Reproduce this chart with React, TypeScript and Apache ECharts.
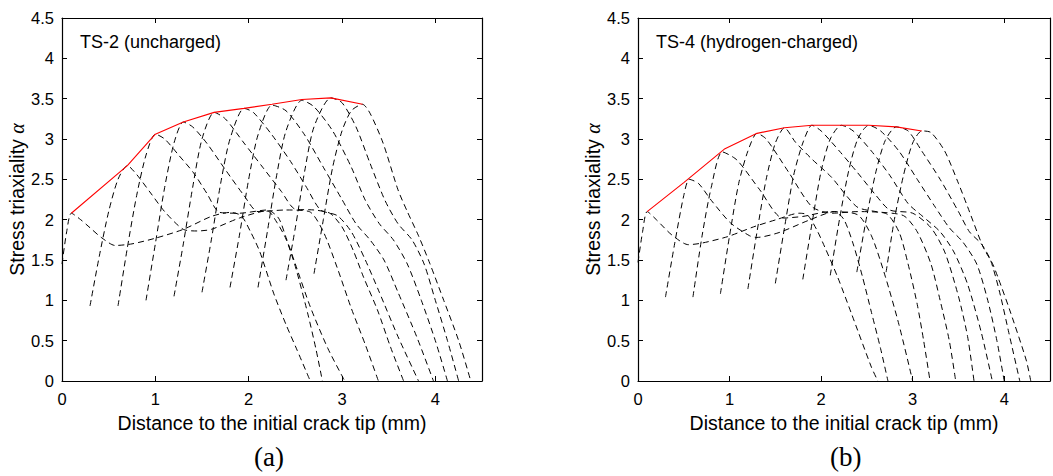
import React, { useEffect, useRef } from "react";
import * as echarts from "echarts";

// ---------- Data (panel a: TS-2 uncharged) ----------
const yTicks = [0, 0.5, 1, 1.5, 2, 2.5, 3, 3.5, 4, 4.5];
const xTicks = [0, 1, 2, 3, 4];

const a1 = [[0,1.45],[0.05,1.85],[0.1,2.08],[0.2,2.0],[0.3,1.9],[0.42,1.78],[0.57,1.68],[0.75,1.7],[1.0,1.77],[1.3,1.88],[1.6,2.04],[1.8,2.09],[1.92,2.05],[2.02,1.85],[2.12,1.6],[2.27,1.08],[2.4,0.7],[2.52,0.38],[2.66,0]];
const a2 = [[0.3,0.93],[0.4,1.55],[0.5,2.1],[0.6,2.5],[0.7,2.67],[0.8,2.56],[0.95,2.33],[1.1,2.1],[1.3,1.88],[1.45,1.86],[1.6,1.88],[1.9,2.02],[2.2,2.11],[2.3,1.97],[2.4,1.76],[2.5,1.42],[2.63,0.85],[2.72,0.4],[2.79,0]];
const a3 = [[0.6,0.93],[0.7,1.65],[0.8,2.3],[0.9,2.8],[1.0,3.06],[1.1,3.0],[1.25,2.8],[1.41,2.58],[1.55,2.33],[1.69,2.09],[1.9,2.08],[2.2,2.12],[2.32,2.02],[2.4,1.78],[2.5,1.45],[2.66,0.92],[2.85,0.4],[3.03,0]];
const a4 = [[0.9,1.0],[1.0,1.7],[1.1,2.4],[1.2,2.95],[1.3,3.21],[1.4,3.15],[1.55,2.95],[1.75,2.62],[1.95,2.3],[2.1,2.1],[2.4,2.12],[2.65,2.1],[2.8,1.85],[2.95,1.4],[3.1,0.9],[3.25,0.45],[3.39,0]];
const a5 = [[1.2,1.05],[1.3,1.7],[1.4,2.4],[1.5,3.0],[1.63,3.33],[1.75,3.25],[1.95,2.95],[2.15,2.65],[2.35,2.35],[2.5,2.13],[2.7,2.12],[2.87,2.08],[3.0,1.91],[3.12,1.62],[3.23,1.29],[3.38,0.88],[3.52,0.42],[3.66,0]];
const a6 = [[1.5,1.1],[1.6,1.75],[1.7,2.45],[1.8,3.0],[1.95,3.38],[2.05,3.33],[2.25,3.05],[2.45,2.72],[2.62,2.4],[2.77,2.12],[2.95,2.05],[3.1,1.85],[3.25,1.5],[3.4,1.1],[3.6,0.55],[3.82,0]];
const a7 = [[1.8,1.16],[1.9,1.8],[2.0,2.5],[2.1,3.05],[2.25,3.42],[2.4,3.35],[2.6,3.05],[2.8,2.65],[3.0,2.25],[3.15,1.95],[3.3,1.75],[3.45,1.5],[3.6,1.1],[3.8,0.55],[3.98,0]];
const a8 = [[2.1,1.16],[2.2,1.85],[2.3,2.55],[2.4,3.1],[2.57,3.48],[2.7,3.4],[2.9,3.1],[3.1,2.65],[3.25,2.24],[3.4,1.95],[3.55,1.75],[3.7,1.45],[3.85,1.0],[4.0,0.5],[4.13,0]];
const a9 = [[2.4,1.25],[2.5,1.9],[2.6,2.6],[2.7,3.15],[2.88,3.51],[3.0,3.45],[3.15,3.15],[3.3,2.7],[3.46,2.24],[3.6,1.95],[3.75,1.75],[3.88,1.45],[4.0,1.0],[4.13,0.5],[4.25,0]];
const a10 = [[2.7,1.33],[2.8,2.0],[2.9,2.65],[3.0,3.1],[3.1,3.35],[3.22,3.43],[3.3,3.32],[3.44,2.95],[3.6,2.37],[3.7,2.1],[3.82,1.8],[3.94,1.46],[4.09,1.0],[4.25,0.5],[4.38,0]];
const aPeak = [[0.1,2.08],[0.7,2.67],[1.0,3.06],[1.3,3.21],[1.63,3.33],[1.95,3.38],[2.25,3.43],[2.57,3.49],[2.88,3.51],[3.22,3.43]];

// ---------- Data (panel b: TS-4 hydrogen-charged) ----------
const b1 = [[0,1.47],[0.05,1.85],[0.1,2.1],[0.2,2.0],[0.37,1.81],[0.55,1.69],[0.7,1.71],[0.98,1.79],[1.26,1.91],[1.51,2.0],[1.76,2.08],[1.85,2.06],[1.95,1.88],[2.04,1.66],[2.18,1.29],[2.33,0.84],[2.55,0.17],[2.62,0]];
const b2 = [[0.3,1.04],[0.4,1.7],[0.5,2.3],[0.56,2.5],[0.66,2.45],[0.8,2.24],[1.01,1.96],[1.22,1.8],[1.3,1.78],[1.54,1.84],[1.86,1.99],[2.15,2.1],[2.25,2.0],[2.35,1.7],[2.45,1.3],[2.55,0.85],[2.65,0.4],[2.73,0]];
const b3 = [[0.6,1.04],[0.7,1.8],[0.8,2.4],[0.92,2.84],[1.08,2.74],[1.33,2.37],[1.58,2.02],[1.8,2.04],[2.1,2.1],[2.4,2.06],[2.55,1.8],[2.7,1.3],[2.85,0.7],[3.0,0]];
const b4 = [[0.9,1.08],[1.0,1.8],[1.1,2.45],[1.2,2.85],[1.3,3.07],[1.4,3.0],[1.65,2.58],[1.9,2.16],[2.12,2.08],[2.4,2.1],[2.7,2.08],[2.85,1.85],[2.95,1.45],[3.05,0.95],[3.12,0.5],[3.19,0]];
const b5 = [[1.2,1.14],[1.3,1.85],[1.4,2.5],[1.5,2.95],[1.6,3.14],[1.72,2.96],[1.9,2.75],[2.11,2.53],[2.39,2.16],[2.6,2.1],[2.9,2.05],[3.05,1.85],[3.2,1.45],[3.3,1.0],[3.4,0.5],[3.47,0]];
const b6 = [[1.5,1.21],[1.6,1.9],[1.7,2.55],[1.8,2.95],[1.9,3.17],[2.0,3.1],[2.2,2.85],[2.4,2.58],[2.6,2.3],[2.75,2.12],[3.0,2.08],[3.2,1.9],[3.35,1.6],[3.5,1.05],[3.6,0.55],[3.67,0]];
const b7 = [[1.8,1.26],[1.9,1.95],[2.0,2.6],[2.1,3.0],[2.22,3.17],[2.35,3.1],[2.55,2.85],[2.75,2.55],[2.95,2.2],[3.1,2.05],[3.3,1.85],[3.45,1.6],[3.6,1.2],[3.75,0.6],[3.87,0]];
const b8 = [[2.1,1.31],[2.2,2.0],[2.3,2.6],[2.4,3.0],[2.52,3.17],[2.65,3.1],[2.85,2.85],[3.05,2.5],[3.25,2.15],[3.4,1.9],[3.55,1.72],[3.7,1.45],[3.82,1.0],[3.92,0.5],[4.0,0]];
const b9 = [[2.39,1.35],[2.5,2.05],[2.6,2.6],[2.7,2.98],[2.82,3.15],[2.95,3.1],[3.1,2.85],[3.3,2.5],[3.5,2.1],[3.62,1.85],[3.75,1.7],[3.85,1.5],[3.95,1.1],[4.05,0.6],[4.17,0]];
const b10 = [[2.71,1.35],[2.8,2.0],[2.9,2.55],[3.0,2.95],[3.1,3.1],[3.2,3.08],[3.35,2.85],[3.5,2.45],[3.6,2.16],[3.77,1.66],[3.87,1.46],[3.93,1.29],[4.06,0.88],[4.24,0.26],[4.29,0]];
const bPeak = [[0.1,2.1],[0.5,2.46],[0.95,2.88],[1.3,3.07],[1.6,3.14],[1.9,3.17],[2.22,3.17],[2.52,3.17],[2.82,3.15],[3.1,3.1]];

const panelA = [a1, a2, a3, a4, a5, a6, a7, a8, a9, a10];
const panelB = [b1, b2, b3, b4, b5, b6, b7, b8, b9, b10];
const labelA = "TS-2 (uncharged)";
const labelB = "TS-4 (hydrogen-charged)";

const SANS = "Liberation Sans, Arial, sans-serif";
const SERIF = "Liberation Serif, Times New Roman, serif";

export default function App() {
  const ref = useRef<HTMLDivElement>(null);
  useEffect(() => {
    if (!ref.current) return;
    const chart = echarts.init(ref.current, undefined, { renderer: "svg" });
    const grids = [
      { left: 62, top: 18, width: 420, height: 363 },
      { left: 638, top: 18, width: 423, height: 363 },
    ];
    const xAxes: any[] = [];
    const yAxes: any[] = [];
    grids.forEach((_, gi) => {
      const common = {
        gridIndex: gi, type: "value", min: 0, max: 4.5, interval: 1,
        axisLine: { show: true, onZero: false, lineStyle: { color: "#000", width: 1.2 } },
        axisTick: { show: true, inside: true, length: 5, lineStyle: { color: "#000" } },
        splitLine: { show: false },
      };
      xAxes.push({
        ...common, position: "bottom",
        axisLabel: { show: true, color: "#000", fontSize: 16.5, fontFamily: SANS, margin: 9,
          formatter: (v: number) => (xTicks.includes(v) ? String(v) : "") },
        name: "Distance to the initial crack tip (mm)", nameLocation: "middle", nameGap: 32,
        nameTextStyle: { color: "#000", fontSize: 19.5, fontFamily: SANS },
      });
      xAxes.push({ ...common, position: "top", axisLabel: { show: false } });
      const ycommon = { ...common, min: 0, max: 4.5, interval: 0.5 };
      yAxes.push({
        ...ycommon, position: "left",
        axisLabel: { show: true, color: "#000", fontSize: 16.5, fontFamily: SANS, margin: 8,
          formatter: (v: number) => (yTicks.includes(v) ? String(v) : "") },
        name: "{s|Stress triaxiality }{g|α}", nameLocation: "middle", nameGap: 35,
        nameTextStyle: {
          color: "#000", fontSize: 19.5, fontFamily: SANS,
          rich: { s: { fontSize: 19.5, fontFamily: SANS, color: "#000" }, g: { fontSize: 20, fontFamily: SERIF, fontStyle: "italic", color: "#000" } },
        },
      });
      yAxes.push({ ...ycommon, position: "right", axisLabel: { show: false } });
    });
    const series: any[] = [];
    const addPanel = (curves: number[][][], peak: number[][], gi: number) => {
      curves.forEach((c, i) => {
        series.push({
          type: "line", name: `p${gi}-${i}`, data: c, xAxisIndex: gi * 2, yAxisIndex: gi * 2,
          symbol: "none", smooth: 0.25, clip: true,
          lineStyle: { color: "#000", width: 1, type: [6, 4] },
        });
      });
      series.push({
        type: "line", name: `env${gi}`, data: peak, xAxisIndex: gi * 2, yAxisIndex: gi * 2,
        symbol: "none", lineStyle: { color: "#ff0000", width: 1.1 }, z: 5,
      });
    };
    addPanel(panelA, aPeak, 0);
    addPanel(panelB, bPeak, 1);
    chart.setOption({
      animation: false,
      backgroundColor: "#fff",
      grid: grids,
      xAxis: xAxes,
      yAxis: yAxes,
      series,
      graphic: [
        { type: "text", left: 80, top: 33, style: { text: labelA, fontSize: 18, fontFamily: SANS, fill: "#000" } },
        { type: "text", left: 656, top: 33, style: { text: labelB, fontSize: 18, fontFamily: SANS, fill: "#000" } },
        { type: "text", left: 254, top: 443, style: { text: "(a)", fontSize: 27, fontFamily: SERIF, fill: "#000" } },
        { type: "text", left: 830, top: 443, style: { text: "(b)", fontSize: 27, fontFamily: SERIF, fill: "#000" } },
      ],
    });
    return () => chart.dispose();
  }, []);
  return (
    <div style={{ position: "fixed", left: 0, top: 0, width: 1053, height: 476, overflow: "hidden", background: "#fff" }}>
      <div ref={ref} style={{ width: 1053, height: 476 }} />
    </div>
  );
}
